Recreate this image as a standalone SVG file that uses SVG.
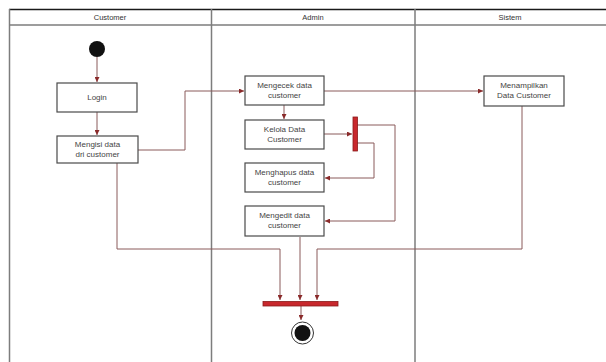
<svg xmlns="http://www.w3.org/2000/svg" width="606" height="362" viewBox="0 0 606 362">
  <style>
    .lane { stroke: #7d7d7d; stroke-width: 1.5; fill: none; }
    .head { font-family: "Liberation Sans", Arial, sans-serif; font-size: 7.5px; fill: #333; text-anchor: middle; }
    .box rect { fill: #ffffff; stroke: #4a4a4a; stroke-width: 1.2; }
    .box text { font-family: "Liberation Sans", Arial, sans-serif; font-size: 8px; fill: #444; text-anchor: middle; }
    .flow { stroke: #8a5a5a; stroke-width: 1; fill: none; }
    .bar { fill: #c8282d; stroke: #8a1a1a; stroke-width: 0.8; }
  </style>
  <defs>
    <marker id="arr" viewBox="0 0 6 6" refX="6" refY="3" markerWidth="5" markerHeight="5" orient="auto">
      <path d="M0,0 L6,3 L0,6 z" fill="#8a2a2a"/>
    </marker>
  </defs>

  <rect width="606" height="362" fill="#ffffff"/>

  <!-- swimlanes -->
  <g id="lanes">
    <line x1="9" y1="9.5" x2="606" y2="9.5" stroke="#1a1a1a" stroke-width="1.5"/>
    <line class="lane" x1="9.5" y1="9" x2="9.5" y2="362"/>
    <line class="lane" x1="9" y1="25" x2="606" y2="25"/>
    <line class="lane" x1="211.5" y1="9" x2="211.5" y2="362"/>
    <line class="lane" x1="415" y1="9" x2="415" y2="362"/>
    <text class="head" x="110" y="20">Customer</text>
    <text class="head" x="313" y="20">Admin</text>
    <text class="head" x="510" y="20">Sistem</text>
  </g>

  <!-- connectors -->
  <g id="connectors">
    <path class="flow" d="M97,57 V82" marker-end="url(#arr)"/>
    <path class="flow" d="M97,112 V135" marker-end="url(#arr)"/>
    <path class="flow" d="M138,150 H185 V91 H244" marker-end="url(#arr)"/>
    <path class="flow" d="M324,91 H483" marker-end="url(#arr)"/>
    <path class="flow" d="M284,105 V119" marker-end="url(#arr)"/>
    <path class="flow" d="M324,134 H352" marker-end="url(#arr)"/>
    <path class="flow" d="M357,143 H374 V178 H325" marker-end="url(#arr)"/>
    <path class="flow" d="M357,125 H395 V221 H325" marker-end="url(#arr)"/>
    <path class="flow" d="M117,163 V249 H280 V300" marker-end="url(#arr)"/>
    <path class="flow" d="M300,237 V300" marker-end="url(#arr)"/>
    <path class="flow" d="M522,106 V249 H317 V300" marker-end="url(#arr)"/>
    <path class="flow" d="M301,306 V320" marker-end="url(#arr)"/>
  </g>

  <!-- customer lane -->
  <g id="start">
    <circle cx="97" cy="49" r="8" fill="#111"/>
  </g>
  <g id="login" class="box">
    <rect x="57" y="83" width="80" height="29"/>
    <text x="97" y="100">Login</text>
  </g>
  <g id="mengisi" class="box">
    <rect x="57" y="136" width="81" height="27"/>
    <text x="97.5" y="147">Mengisi data</text>
    <text x="97.5" y="157">dri customer</text>
  </g>

  <!-- admin lane -->
  <g id="mengecek" class="box">
    <rect x="245" y="76" width="79" height="29"/>
    <text x="284.5" y="88">Mengecek data</text>
    <text x="284.5" y="98">customer</text>
  </g>
  <g id="kelola" class="box">
    <rect x="245" y="120" width="79" height="29"/>
    <text x="284.5" y="132">Kelola Data</text>
    <text x="284.5" y="142">Customer</text>
  </g>
  <g id="fork">
    <rect class="bar" x="353" y="117" width="4.5" height="34"/>
  </g>
  <g id="menghapus" class="box">
    <rect x="245" y="163" width="79" height="29"/>
    <text x="284.5" y="175">Menghapus data</text>
    <text x="284.5" y="185">customer</text>
  </g>
  <g id="mengedit" class="box">
    <rect x="245" y="206" width="79" height="30"/>
    <text x="284.5" y="218">Mengedit data</text>
    <text x="284.5" y="228">customer</text>
  </g>
  <g id="join">
    <rect class="bar" x="263" y="301.5" width="75" height="4.5"/>
  </g>
  <g id="end">
    <circle cx="302.5" cy="333" r="11" fill="#fff" stroke="#333" stroke-width="1"/>
    <circle cx="302.5" cy="333" r="8" fill="#111"/>
  </g>

  <!-- sistem lane -->
  <g id="menampilkan" class="box">
    <rect x="484" y="76" width="80" height="30"/>
    <text x="524" y="88">Menampilkan</text>
    <text x="524" y="98">Data Customer</text>
  </g>
</svg>
